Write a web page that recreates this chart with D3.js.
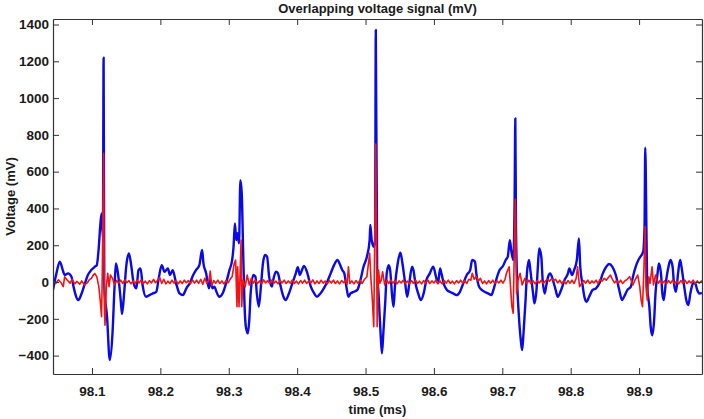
<!DOCTYPE html>
<html>
<head>
<meta charset="utf-8">
<script src="https://cdn.jsdelivr.net/npm/d3@7"></script>
<style>
  body { margin: 0; background: #fff; }
  text { font-family: Arial, "Liberation Sans", sans-serif; font-weight: bold; fill: #1a1a1a; }
</style>
</head>
<body>
<div id="main"></div>
<script>
const ctx = {
    w: 704,
    h: 419,
    left: 53,
    right: 702,
    top: 19,
    bottom: 374
};

const titleText = "Overlapping voltage signal (mV)";
const xLabel = "time (ms)";
const yLabel = "Voltage (mV)";
const xDomain = [98.043, 98.992];
const yDomain = [-500, 1430];
const xTicks = [98.1, 98.2, 98.3, 98.4, 98.5, 98.6, 98.7, 98.8, 98.9];
const yTicks = [-400, -200, 0, 200, 400, 600, 800, 1000, 1200, 1400];

// blue trace [time ms, mV]
const blueSignal = [
    [98.043,-43],[98.048,47],[98.053,111],[98.058,56],[98.060,38],[98.065,47],[98.070,29],[98.073,-25],
    [98.080,-98],[98.084,-71],[98.089,-16],[98.094,38],[98.099,65],[98.104,83],[98.107,92],[98.110,192],
    [98.112,301],[98.114,373],[98.116,246],[98.117,1220],[98.118,-25],[98.122,-188],[98.126,-424],[98.130,-279],
    [98.133,-25],[98.135,101],[98.138,47],[98.142,-98],[98.144,-174],[98.147,-62],[98.150,83],[98.154,156],
    [98.157,101],[98.161,-7],[98.165,-34],[98.168,65],[98.171,74],[98.174,-16],[98.179,-80],[98.184,-71],
    [98.189,-62],[98.194,-53],[98.198,29],[98.202,92],[98.206,56],[98.211,74],[98.214,38],[98.218,65],
    [98.223,-7],[98.228,-62],[98.233,-71],[98.238,-34],[98.243,-7],[98.248,38],[98.252,65],[98.257,92],
    [98.261,174],[98.263,101],[98.267,47],[98.271,-34],[98.273,11],[98.276,-34],[98.279,-25],[98.282,-53],
    [98.286,-80],[98.291,-62],[98.296,-7],[98.301,65],[98.305,120],[98.307,192],[98.309,319],[98.311,228],
    [98.313,265],[98.315,210],[98.317,554],[98.319,482],[98.321,174],[98.323,-116],[98.325,-243],[98.328,-279],
    [98.330,-207],[98.332,-62],[98.336,38],[98.339,29],[98.341,-62],[98.344,-134],[98.347,-25],[98.350,101],
    [98.353,147],[98.356,138],[98.359,29],[98.363,-25],[98.365,11],[98.369,56],[98.372,47],[98.376,-25],
    [98.380,-80],[98.383,-98],[98.388,-62],[98.393,-7],[98.398,47],[98.401,80],[98.404,38],[98.407,65],
    [98.410,87],[98.415,47],[98.420,-25],[98.425,-62],[98.429,-80],[98.434,-62],[98.439,-34],[98.444,2],
    [98.449,47],[98.454,92],[98.459,120],[98.462,101],[98.466,65],[98.469,47],[98.472,-25],[98.475,-80],
    [98.478,-62],[98.483,-53],[98.488,-43],[98.492,2],[98.497,83],[98.502,138],[98.506,228],[98.507,310],
    [98.509,228],[98.512,192],[98.514,228],[98.515,1370],[98.517,65],[98.519,-62],[98.522,-279],[98.524,-388],
    [98.526,-279],[98.529,-98],[98.531,47],[98.534,92],[98.536,65],[98.539,-80],[98.541,-134],[98.543,-25],
    [98.547,101],[98.551,159],[98.554,101],[98.558,-7],[98.561,-80],[98.564,-7],[98.568,83],[98.570,65],
    [98.573,-7],[98.577,-62],[98.581,-98],[98.585,-62],[98.589,11],[98.594,47],[98.599,83],[98.603,29],
    [98.606,-7],[98.609,74],[98.611,47],[98.615,-16],[98.619,-43],[98.623,-53],[98.628,-62],[98.633,-71],
    [98.638,-53],[98.643,-7],[98.648,38],[98.653,65],[98.656,120],[98.660,111],[98.662,47],[98.666,-25],
    [98.670,-43],[98.674,-53],[98.679,-62],[98.684,-71],[98.687,-43],[98.691,11],[98.696,65],[98.701,87],
    [98.705,120],[98.708,138],[98.711,228],[98.713,174],[98.716,120],[98.718,446],[98.719,890],[98.720,301],
    [98.722,-25],[98.724,-170],[98.727,-315],[98.729,-370],[98.731,-279],[98.734,-98],[98.736,47],[98.739,120],
    [98.741,65],[98.745,-62],[98.747,-116],[98.750,-43],[98.752,83],[98.754,183],[98.757,138],[98.759,11],
    [98.762,-62],[98.764,-25],[98.767,29],[98.770,47],[98.774,11],[98.778,-43],[98.781,-80],[98.786,-43],
    [98.791,11],[98.796,47],[98.798,74],[98.802,38],[98.805,65],[98.809,120],[98.812,237],[98.814,83],
    [98.817,-7],[98.820,-80],[98.823,-107],[98.827,-80],[98.832,-43],[98.837,-34],[98.842,-7],[98.847,47],
    [98.852,83],[98.856,98],[98.861,83],[98.866,38],[98.871,-43],[98.875,-98],[98.878,-80],[98.883,-43],
    [98.888,-25],[98.891,29],[98.895,83],[98.899,120],[98.902,138],[98.906,165],[98.908,301],[98.909,730],
    [98.911,210],[98.912,-25],[98.915,-134],[98.917,-243],[98.919,-290],[98.922,-207],[98.924,-62],[98.927,47],
    [98.929,101],[98.932,47],[98.934,-62],[98.936,-98],[98.939,-7],[98.943,83],[98.946,120],[98.949,83],
    [98.951,-7],[98.954,-53],[98.957,47],[98.960,120],[98.962,83],[98.966,-25],[98.969,-98],[98.972,-125],
    [98.975,-62],[98.979,-7],[98.982,-7],[98.985,-43],[98.988,-62],[98.992,-60]
];

// red trace [time ms, mV]
const redSignal = [
    [98.043,5],[98.047,-8],[98.051,12],[98.055,-5],[98.058,-25],[98.060,28],[98.064,10],[98.068,-6],
    [98.071,14],[98.075,-10],[98.078,4],[98.082,-12],[98.085,6],[98.089,-15],[98.093,-5],[98.096,12],
    [98.099,20],[98.102,38],[98.104,47],[98.107,29],[98.110,-25],[98.112,-98],[98.114,-188],[98.115,29],
    [98.117,700],[98.118,-98],[98.119,-235],[98.121,-25],[98.123,47],[98.125,-25],[98.127,38],[98.130,20],
    [98.133,-16],[98.136,8],[98.139,-6],[98.142,10],[98.145,-8],[98.148,12],[98.151,-4],[98.154,8],
    [98.157,-10],[98.160,6],[98.163,-8],[98.166,10],[98.169,-5],[98.172,12],[98.175,-8],[98.178,5],
    [98.181,-10],[98.184,8],[98.187,-5],[98.190,14],[98.193,-4],[98.196,10],[98.199,25],[98.202,-8],
    [98.205,15],[98.208,-10],[98.211,5],[98.214,-8],[98.217,10],[98.220,-6],[98.223,8],[98.226,-10],
    [98.229,6],[98.232,-8],[98.235,10],[98.238,-4],[98.241,8],[98.244,-10],[98.247,12],[98.250,-6],
    [98.253,10],[98.256,-8],[98.259,15],[98.262,-12],[98.265,20],[98.268,-8],[98.271,10],[98.273,60],
    [98.275,-20],[98.278,8],[98.281,-6],[98.284,10],[98.287,-8],[98.290,6],[98.293,-10],[98.296,8],
    [98.299,-5],[98.302,15],[98.305,30],[98.308,101],[98.310,120],[98.312,-134],[98.313,83],[98.315,-134],
    [98.316,-25],[98.318,228],[98.319,-134],[98.321,11],[98.324,-25],[98.327,38],[98.330,-16],[98.333,20],
    [98.336,-6],[98.339,10],[98.342,-8],[98.345,6],[98.348,-10],[98.351,12],[98.354,-5],[98.357,8],
    [98.360,-8],[98.363,10],[98.366,-6],[98.369,5],[98.372,-10],[98.375,8],[98.378,-5],[98.381,10],
    [98.384,-8],[98.387,6],[98.390,-6],[98.393,12],[98.396,-8],[98.399,5],[98.402,-10],[98.405,8],
    [98.408,-6],[98.411,10],[98.414,-8],[98.417,6],[98.420,-5],[98.423,12],[98.426,-10],[98.429,6],
    [98.432,-8],[98.435,10],[98.438,-6],[98.441,5],[98.444,-10],[98.447,8],[98.450,-5],[98.453,10],
    [98.456,-8],[98.459,6],[98.462,-10],[98.465,8],[98.468,-4],[98.471,10],[98.473,-12],[98.475,83],
    [98.477,-8],[98.480,6],[98.483,-10],[98.486,8],[98.489,-6],[98.492,10],[98.495,-8],[98.498,12],
    [98.502,29],[98.506,156],[98.508,11],[98.510,-98],[98.512,-243],[98.513,83],[98.515,750],[98.517,-243],
    [98.519,65],[98.521,-7],[98.523,11],[98.525,56],[98.528,-16],[98.531,11],[98.534,-8],[98.537,10],
    [98.540,-6],[98.543,8],[98.546,-10],[98.549,6],[98.552,-5],[98.555,10],[98.558,-8],[98.561,5],
    [98.564,-10],[98.567,8],[98.570,-6],[98.573,10],[98.576,-8],[98.579,5],[98.582,-10],[98.585,8],
    [98.588,-6],[98.591,12],[98.594,-8],[98.597,6],[98.600,-5],[98.603,10],[98.606,-8],[98.609,6],
    [98.612,-10],[98.615,8],[98.618,-6],[98.621,10],[98.624,-8],[98.627,5],[98.630,-10],[98.633,8],
    [98.636,-5],[98.639,10],[98.642,-6],[98.645,8],[98.648,-8],[98.651,15],[98.654,10],[98.656,47],
    [98.659,15],[98.662,30],[98.665,5],[98.668,20],[98.671,-8],[98.674,6],[98.677,-10],[98.680,8],
    [98.683,-6],[98.686,10],[98.689,-8],[98.692,6],[98.695,-5],[98.698,10],[98.701,-6],[98.704,15],
    [98.706,47],[98.710,83],[98.712,-25],[98.714,-134],[98.716,-170],[98.717,65],[98.719,450],[98.721,-62],
    [98.723,11],[98.726,47],[98.729,-16],[98.733,20],[98.736,-6],[98.739,10],[98.742,-8],[98.745,6],
    [98.748,-10],[98.751,8],[98.754,-5],[98.757,10],[98.760,-8],[98.763,6],[98.766,15],[98.769,5],
    [98.772,18],[98.775,8],[98.778,15],[98.781,-5],[98.784,10],[98.787,-8],[98.790,6],[98.793,-10],
    [98.796,8],[98.799,-6],[98.802,10],[98.805,-8],[98.808,20],[98.810,83],[98.813,-25],[98.816,-7],
    [98.819,8],[98.822,-6],[98.825,10],[98.828,-8],[98.831,6],[98.834,-5],[98.837,10],[98.840,-8],
    [98.843,15],[98.846,5],[98.849,20],[98.852,10],[98.855,25],[98.858,38],[98.861,15],[98.864,-5],
    [98.867,8],[98.870,-6],[98.873,10],[98.876,-8],[98.879,6],[98.882,12],[98.886,29],[98.889,5],
    [98.891,-16],[98.894,10],[98.898,38],[98.901,-25],[98.903,-98],[98.905,-134],[98.907,65],[98.909,301],
    [98.910,-25],[98.912,-98],[98.914,29],[98.916,-7],[98.919,83],[98.921,-16],[98.924,38],[98.928,-7],
    [98.931,10],[98.934,-8],[98.937,6],[98.940,-10],[98.943,8],[98.946,-6],[98.949,10],[98.952,-8],
    [98.955,5],[98.958,-10],[98.961,8],[98.964,-6],[98.967,10],[98.970,-8],[98.973,6],[98.976,-5],
    [98.979,10],[98.982,-8],[98.985,6],[98.988,-6],[98.992,8]
];

function createViz() {
    let svgEl = d3.select("#main").append("svg")
        .attr("width", ctx.w)
        .attr("height", ctx.h);

    let xScale = d3.scaleLinear().domain(xDomain).range([ctx.left, ctx.right]);
    let yScale = d3.scaleLinear().domain(yDomain).range([ctx.bottom, ctx.top]);

    svgEl.append("defs").append("clipPath").attr("id", "plotClip")
        .append("rect")
        .attr("x", ctx.left).attr("y", ctx.top)
        .attr("width", ctx.right - ctx.left).attr("height", ctx.bottom - ctx.top);

    // traces: blue first, red on top
    let blueLine = d3.line()
        .curve(d3.curveMonotoneX)
        .x((d) => xScale(d[0]))
        .y((d) => yScale(d[1]));
    let redLine = d3.line()
        .x((d) => xScale(d[0]))
        .y((d) => yScale(d[1]));
    let plotG = svgEl.append("g").attr("clip-path", "url(#plotClip)");
    plotG.append("path")
        .datum(blueSignal)
        .attr("fill", "none")
        .attr("stroke", "#0a0ae6")
        .attr("stroke-width", 2.4)
        .attr("stroke-linejoin", "round")
        .attr("d", blueLine);
    plotG.append("path")
        .datum(redSignal)
        .attr("fill", "none")
        .attr("stroke", "#f01414")
        .attr("stroke-width", 1.6)
        .attr("stroke-linejoin", "round")
        .attr("d", redLine);

    // axes, ticks pointing inward like the original
    let axisColor = "#333";
    let tickLen = 6;
    let xAxisB = d3.axisBottom(xScale).tickValues(xTicks).tickSizeInner(-tickLen).tickSizeOuter(0)
        .tickPadding(12).tickFormat(d3.format(".1f"));
    let xAxisT = d3.axisTop(xScale).tickValues(xTicks).tickSizeInner(-tickLen).tickSizeOuter(0).tickFormat("");
    let yAxisL = d3.axisLeft(yScale).tickValues(yTicks).tickSizeInner(-tickLen).tickSizeOuter(0)
        .tickPadding(4).tickFormat(d3.format("d"));
    let yAxisR = d3.axisRight(yScale).tickValues(yTicks).tickSizeInner(-tickLen).tickSizeOuter(0).tickFormat("");

    let axG = svgEl.append("g");
    axG.append("g").attr("transform", `translate(0,${ctx.bottom})`).call(xAxisB);
    axG.append("g").attr("transform", `translate(0,${ctx.top})`).call(xAxisT);
    axG.append("g").attr("transform", `translate(${ctx.left},0)`).call(yAxisL);
    axG.append("g").attr("transform", `translate(${ctx.right},0)`).call(yAxisR);
    axG.selectAll(".domain").attr("stroke", axisColor).attr("stroke-width", 1.2);
    axG.selectAll(".tick line").attr("stroke", axisColor).attr("stroke-width", 1);
    axG.selectAll(".tick text")
        .attr("font-size", 13.5)
        .attr("font-family", "Arial, 'Liberation Sans', sans-serif")
        .attr("font-weight", "bold")
        .attr("fill", "#1a1a1a");

    // title and axis labels
    svgEl.append("text")
        .attr("x", (ctx.left + ctx.right) / 2)
        .attr("y", 13)
        .attr("text-anchor", "middle")
        .attr("font-size", 13)
        .text(titleText);
    svgEl.append("text")
        .attr("x", (ctx.left + ctx.right) / 2)
        .attr("y", 414)
        .attr("text-anchor", "middle")
        .attr("font-size", 13)
        .text(xLabel);
    svgEl.append("text")
        .attr("transform", `translate(15,${(ctx.top + ctx.bottom) / 2}) rotate(-90)`)
        .attr("text-anchor", "middle")
        .attr("font-size", 13)
        .text(yLabel);
}

createViz();
</script>
</body>
</html>
